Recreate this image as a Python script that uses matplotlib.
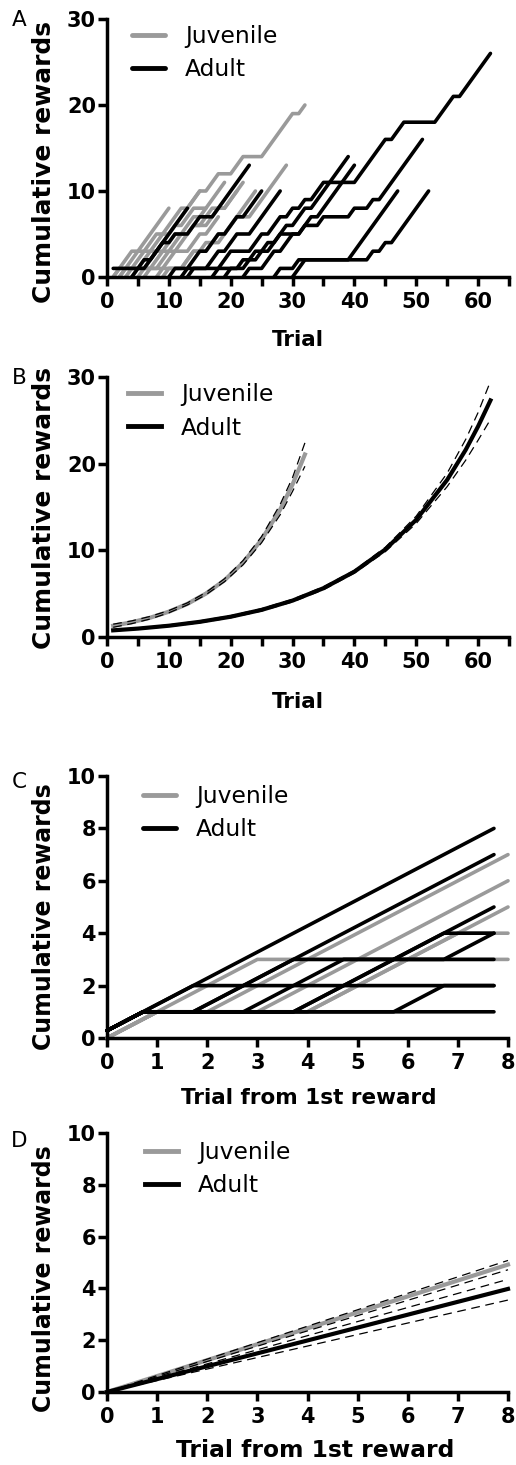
import matplotlib
matplotlib.use("Agg")
import matplotlib.pyplot as plt
import numpy as np

# ---------------- DATA ----------------
# Panel A: individual cumulative reward curves, vertices (trial, cumulative rewards)
juvenile_A = [
    [(1, 0), (2, 1), (3, 1), (5, 3), (6, 3), (8, 5), (9, 5), (12, 8), (13, 8), (15, 10), (16, 10),
     (18, 12), (20, 12), (22, 14), (25, 14), (30, 19), (31, 19), (32, 20)],
    [(8, 0), (9, 1), (12, 1), (14, 3), (16, 3), (18, 5), (19, 5), (21, 7), (23, 7), (29, 13)],
    [(9, 0), (10, 1), (12, 1), (14, 3), (15, 3), (16, 4), (18, 4), (24, 10)],
    [(2, 0), (3, 1), (4, 1), (6, 3), (7, 3), (9, 5), (10, 5), (15, 10)],
    [(1, 0), (3, 2), (4, 3), (5, 3), (10, 8)],
    [(5, 0), (6, 1), (8, 1), (10, 3), (11, 3), (14, 6), (15, 6), (17, 8), (19, 8), (22, 11)],
    [(3, 0), (4, 1), (6, 1), (8, 3), (9, 3), (11, 5), (12, 5), (14, 7), (15, 7), (19, 11)],
    [(4, 0), (5, 1), (7, 1), (9, 3), (10, 3), (12, 5), (13, 5), (14, 6), (16, 6), (18, 8), (19, 8), (21, 10)],
    [(2, 0), (3, 1), (5, 1), (7, 3), (8, 3), (11, 6), (12, 6), (14, 8), (16, 8)],
    [(6, 0), (7, 1), (9, 1), (11, 3), (13, 3), (15, 5), (16, 5), (18, 7)],
]
adult_A = [
    [(12, 0), (13, 1), (18, 1), (20, 3), (23, 3), (25, 5), (26, 5), (28, 7), (29, 7), (30, 8), (31, 8),
     (32, 9), (33, 9), (35, 11), (40, 11), (45, 16), (46, 16), (48, 18), (53, 18), (56, 21), (57, 21), (62, 26)],
    [(19, 0), (20, 1), (22, 1), (24, 3), (26, 3), (28, 5), (31, 5), (32, 6), (34, 6), (35, 7), (39, 7),
     (40, 8), (42, 8), (43, 9), (44, 9), (51, 16)],
    [(27, 0), (28, 1), (30, 1), (31, 2), (39, 2), (47, 10)],
    [(30, 0), (32, 2), (42, 2), (43, 3), (44, 3), (45, 4), (46, 4), (52, 10)],
    [(17, 0), (18, 1), (21, 1), (22, 2), (24, 2), (26, 4), (27, 4), (29, 6), (30, 6), (32, 8), (33, 8), (39, 14)],
    [(22, 0), (23, 1), (25, 1), (27, 3), (28, 3), (30, 5), (31, 5), (33, 7), (34, 7), (40, 13)],
    [(1, 1), (5, 1), (6, 2), (7, 2), (9, 4), (10, 4), (11, 5), (13, 5), (15, 7), (16, 7), (17, 7), (23, 13)],
    [(10, 0), (11, 1), (13, 1), (15, 3), (16, 3), (18, 5), (19, 5), (21, 7), (22, 7), (25, 10)],
    [(13, 0), (14, 1), (16, 1), (18, 3), (19, 3), (21, 5), (23, 5), (25, 7), (28, 10)],
    [(4, 0), (5, 1), (6, 1), (8, 3), (13, 8)],
]

# Panel B: fitted curves with confidence bands
juv_B_trial = [1, 4, 7, 10, 13, 16, 19, 22, 25, 28, 30, 32]
juv_B_fit = [1.30, 1.70, 2.23, 2.92, 3.82, 5.01, 6.55, 8.58, 11.24, 14.71, 17.6, 21.06]
juv_B_upper = [1.48, 1.86, 2.38, 3.05, 3.94, 5.14, 6.72, 8.83, 11.6, 15.3, 18.4, 22.4]
juv_B_lower = [1.12, 1.54, 2.08, 2.79, 3.70, 4.88, 6.38, 8.33, 10.88, 14.1, 16.8, 19.7]
adult_B_trial = [1, 5, 10, 15, 20, 25, 30, 35, 40, 45, 50, 55, 58, 60, 62]
adult_B_fit = [0.77, 0.97, 1.30, 1.75, 2.34, 3.13, 4.20, 5.63, 7.54, 10.10, 13.53, 18.13, 21.6, 24.3, 27.3]
adult_B_upper = [0.85, 1.06, 1.40, 1.86, 2.46, 3.27, 4.35, 5.80, 7.69, 10.35, 13.95, 18.9, 22.8, 25.9, 29.5]
adult_B_lower = [0.69, 0.89, 1.21, 1.64, 2.22, 3.00, 4.05, 5.45, 7.38, 9.85, 13.1, 17.35, 20.4, 22.7, 25.1]

# Panel C: aligned to first reward, vertices (trial from 1st reward, cumulative rewards)
juvenile_C = [
    [(0, 0), (3, 3), (8, 3)],
    [(0, 0), (1, 1), (2, 1), (8, 7)],
    [(0, 0), (1, 1), (3, 1), (8, 6)],
    [(0, 0), (1, 1), (4, 1), (8, 5)],
    [(0, 0), (1, 1), (4, 1), (7, 4), (8, 4)],
]
adult_C = [
    [(0, 0.28), (7.72, 8)],
    [(0, 0.28), (0.72, 1), (1.72, 1), (7.72, 7)],
    [(0, 0.28), (1.72, 2), (7.72, 2)],
    [(0, 0.28), (0.72, 1), (3.72, 1), (7.72, 5)],
    [(0, 0.28), (0.72, 1), (1.72, 1), (3.72, 3), (7.72, 3)],
    [(0, 0.28), (0.72, 1), (5.72, 1), (6.72, 2), (7.72, 2)],
    [(0, 0.28), (0.72, 1), (7.72, 1)],
    [(0, 0.28), (0.72, 1), (3.72, 1), (6.72, 4), (7.72, 4)],
    [(0, 0.28), (0.72, 1), (2.72, 1), (4.72, 3), (6.72, 3), (7.72, 4)],
]

# Panel D: linear fits with confidence bands
D_trial = [0, 8]
juv_D_fit = [0, 4.92]
juv_D_upper = [0, 5.08]
juv_D_lower = [0, 4.72]
adult_D_fit = [0, 3.98]
adult_D_upper = [0, 4.35]
adult_D_lower = [0, 3.55]

# ---------------- STYLE ----------------
plt.rcParams["font.family"] = ["DejaVu Sans"]
GREY = "#9a9a9a"
BLACK = "#000000"
W, H = 516, 1465

fig = plt.figure(figsize=(W / 100, H / 100), dpi=100)


def rect(l, r, t, b):
    return [l / W, 1 - b / H, (r - l) / W, (b - t) / H]


def style(ax, xlim, ylim, xticks, yticks, xminor=None):
    for s in ["top", "right"]:
        ax.spines[s].set_visible(False)
    for s in ["left", "bottom"]:
        ax.spines[s].set_linewidth(2.5)
    ax.set_xlim(*xlim)
    ax.set_ylim(*ylim)
    ax.set_xticks(xticks)
    ax.set_yticks(yticks)
    if xminor is not None:
        ax.set_xticks(xminor, minor=True)
    ax.tick_params(which="both", direction="out", length=6.5, width=2.5)
    ax.tick_params(axis="x", pad=4, labelsize=15)
    ax.tick_params(axis="y", pad=1.5, labelsize=15)
    for lab in ax.get_xticklabels() + ax.get_yticklabels():
        lab.set_fontweight("bold")


def legend(ax, x, y):
    leg = ax.legend(loc="upper left", bbox_to_anchor=(x, y), frameon=False,
                    fontsize=16.8, handlelength=1.42, handletextpad=0.86,
                    labelspacing=0.43, borderpad=0, borderaxespad=0)
    for h in leg.legend_handles:
        h.set_linewidth(3.5)
        h.set_linestyle("-")
    return leg


def draw_paths(ax, paths, color, label, lw):
    for i, p in enumerate(paths):
        xs = [q[0] for q in p]
        ys = [q[1] for q in p]
        ax.plot(xs, ys, color=color, lw=lw, solid_capstyle="round", solid_joinstyle="round",
                clip_on=False, label=label if i == 0 else None)


def labels(ax, xlab, xc, yc_x, ylab, yc, xfs, yfs):
    ax.set_xlabel(xlab, fontsize=xfs, fontweight="bold", va="center")
    ax.xaxis.set_label_coords(xc, yc_x)
    ax.set_ylabel(ylab, fontsize=yfs, fontweight="bold", va="center")
    ax.yaxis.set_label_coords(-0.157, yc)


# ---------------- Panel A ----------------
axA = fig.add_axes(rect(107, 509, 19, 277))
draw_paths(axA, juvenile_A, GREY, "Juvenile", 2.6)
draw_paths(axA, adult_A, BLACK, "Adult", 2.6)
style(axA, (0, 65), (0, 30), np.arange(0, 61, 10), [0, 10, 20, 30], np.arange(5, 66, 10))
labels(axA, "Trial", 0.475, -0.244, "Cumulative rewards", 0.446, 15.5, 17.9)
legend(axA, 0.062, 0.975)

# ---------------- Panel B ----------------
axB = fig.add_axes(rect(107, 509, 377, 637))
axB.plot(juv_B_trial, juv_B_fit, color=GREY, lw=3.0, clip_on=False, label="Juvenile")
axB.plot(adult_B_trial, adult_B_fit, color=BLACK, lw=3.0, clip_on=False, label="Adult")
for up, lo, tr in [(juv_B_upper, juv_B_lower, juv_B_trial), (adult_B_upper, adult_B_lower, adult_B_trial)]:
    axB.plot(tr, up, color=BLACK, lw=0.9, dashes=(7, 4.5), clip_on=False)
    axB.plot(tr, lo, color=BLACK, lw=0.9, dashes=(7, 4.5), clip_on=False)
style(axB, (0, 65), (0, 30), np.arange(0, 61, 10), [0, 10, 20, 30], np.arange(5, 66, 10))
labels(axB, "Trial", 0.475, -0.25, "Cumulative rewards", 0.496, 15.5, 17.9)
legend(axB, 0.052, 0.975)

# ---------------- Panel C ----------------
axC = fig.add_axes(rect(107, 508, 776, 1038))
draw_paths(axC, juvenile_C, GREY, "Juvenile", 2.6)
draw_paths(axC, adult_C, BLACK, "Adult", 2.6)
style(axC, (0, 8), (0, 10), np.arange(0, 9, 1), np.arange(0, 11, 2))
labels(axC, "Trial from 1st reward", 0.504, -0.229, "Cumulative rewards", 0.462, 15.5, 17)
legend(axC, 0.09, 0.965)

# ---------------- Panel D ----------------
axD = fig.add_axes(rect(107, 508, 1133, 1392))
axD.plot(D_trial, juv_D_fit, color=GREY, lw=3.0, clip_on=False, label="Juvenile")
axD.plot(D_trial, adult_D_fit, color=BLACK, lw=3.0, clip_on=False, label="Adult")
for ys in [juv_D_upper, juv_D_lower, adult_D_upper, adult_D_lower]:
    axD.plot(D_trial, ys, color=BLACK, lw=0.9, dashes=(7, 4.5), clip_on=False)
style(axD, (0, 8), (0, 10), np.arange(0, 9, 1), np.arange(0, 11, 2))
labels(axD, "Trial from 1st reward", 0.519, -0.224, "Cumulative rewards", 0.436, 16.8, 17)
legend(axD, 0.095, 0.97)

# ---------------- Panel letters ----------------
for letter, yc in [("A", 20.5), ("B", 378), ("C", 782), ("D", 1141)]:
    fig.text(19.5 / W, 1 - yc / H, letter, ha="center", va="center", fontsize=15.5)

fig.savefig("out.png", dpi=100)
